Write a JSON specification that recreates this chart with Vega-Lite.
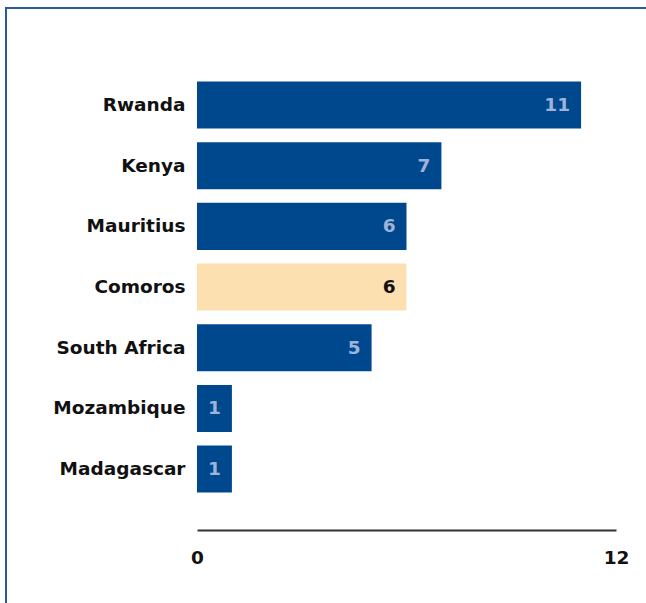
{
  "$schema": "https://vega.github.io/schema/vega-lite/v6.json",
  "autosize": "none",
  "width": 700,
  "height": 620,
  "padding": {"left": 6, "top": 8, "right": 0, "bottom": 0},
  "background": "white",
  "config": {
    "view": {"stroke": "#2c5a9a", "strokeWidth": 2},
    "font": "DejaVu Sans"
  },
  "data": {
    "values": [
      {"country": "Rwanda", "value": 11},
      {"country": "Kenya", "value": 7},
      {"country": "Mauritius", "value": 6},
      {"country": "Comoros", "value": 6},
      {"country": "South Africa", "value": 5},
      {"country": "Mozambique", "value": 1},
      {"country": "Madagascar", "value": 1}
    ]
  },
  "encoding": {
    "y": {
      "field": "country",
      "type": "nominal",
      "sort": null,
      "scale": {"range": [66.7, 491.4], "paddingInner": 0.225, "paddingOuter": 0.1125},
      "axis": {
        "title": null,
        "orient": "left",
        "offset": -191,
        "domain": false,
        "ticks": false,
        "labelPadding": 12,
        "labelFont": "DejaVu Sans",
        "labelFontWeight": "bold",
        "labelFontSize": 18.5,
        "labelColor": "#111111"
      }
    }
  },
  "layer": [
    {
      "mark": {"type": "bar"},
      "encoding": {
        "x": {
          "field": "value",
          "type": "quantitative",
          "scale": {"domain": [0, 12], "range": [191, 610], "nice": false, "zero": true},
          "axis": {
            "title": null,
            "orient": "bottom",
            "offset": -98,
            "values": [0, 12],
            "format": "d",
            "grid": false,
            "ticks": false,
            "domain": true,
            "domainColor": "#333333",
            "domainWidth": 2,
            "labelPadding": 18,
            "labelFont": "DejaVu Sans",
            "labelFontWeight": "bold",
            "labelFontSize": 18.5,
            "labelColor": "#111111",
            "labelFlush": false
          }
        },
        "x2": {"datum": 0},
        "color": {
          "condition": {"test": "datum.country === 'Comoros'", "value": "#fde0b0"},
          "value": "#00488e"
        }
      }
    },
    {
      "mark": {"type": "text", "align": "right", "baseline": "middle", "dx": -11, "font": "DejaVu Sans", "fontWeight": "bold", "fontSize": 18.5},
      "encoding": {
        "x": {"field": "value", "type": "quantitative"},
        "text": {"field": "value", "type": "quantitative"},
        "color": {
          "condition": {"test": "datum.country === 'Comoros'", "value": "#111111"},
          "value": "#9db4d8"
        }
      }
    }
  ]
}
